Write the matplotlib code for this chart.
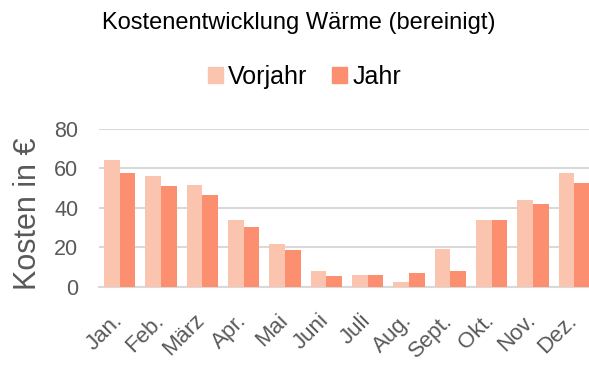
import numpy as np
import matplotlib.pyplot as plt
import matplotlib.transforms as mtransforms
from matplotlib.patches import Patch

plt.rcParams['font.family'] = ['Liberation Sans', 'DejaVu Sans']

monate = ["Jan.", "Feb.", "März", "Apr.", "Mai", "Juni", "Juli", "Aug.", "Sept.", "Okt.", "Nov.", "Dez."]
vorjahr = [64, 56.3, 51.7, 34, 21.7, 8.1, 6.1, 2.4, 19.4, 33.9, 44, 57.6]
jahr = [57.8, 51, 46.7, 30.5, 18.9, 5.6, 6, 6.9, 7.9, 33.9, 41.9, 52.7]

farbe_vj = "#FBC4AE"
farbe_j = "#FB8F6F"
grau = "#595959"

fig = plt.figure(figsize=(5.89, 3.71), dpi=100)
ax = fig.add_axes([99/589, 1 - 287/371, 496/589, (287 - 128.7)/371])

x = np.arange(len(monate))
b = 0.38
ax.bar(x - b/2, vorjahr, b, color=farbe_vj, zorder=3)
ax.bar(x + b/2, jahr, b, color=farbe_j, zorder=3)

ax.set_xlim(-0.5, 11.5)
ax.set_ylim(0, 80)
ax.set_yticks([0, 20, 40, 60, 80])
ax.yaxis.grid(True, color="#D9D9D9", linewidth=1.5, zorder=0)
for s in ["top", "right", "left"]:
    ax.spines[s].set_visible(False)
ax.spines["bottom"].set_color("#D9D9D9")
ax.spines["bottom"].set_linewidth(1.5)
ax.tick_params(length=0, colors=grau)
ax.tick_params(axis="y", pad=15, labelsize=15.5)
ax.tick_params(axis="x", pad=10, labelsize=16)
ax.set_xticks(x)
ax.set_xticklabels(monate, rotation=45, ha="right", rotation_mode="anchor")
# Monatsnamen etwas nach links unten schieben
versatz = mtransforms.ScaledTranslation(-8/100, -9/100, fig.dpi_scale_trans)
for lbl in ax.get_xticklabels():
    lbl.set_transform(lbl.get_transform() + versatz)
ax.set_ylabel("Kosten in €", fontsize=22, color=grau)
ax.yaxis.set_label_coords(-0.112, 0.464)

fig.text(0.507, 1 - 29/371, "Kostenentwicklung Wärme (bereinigt)", ha="center", va="baseline",
         fontsize=17, color="#000000")
fig.legend(handles=[Patch(color=farbe_vj, label="Vorjahr"), Patch(color=farbe_j, label="Jahr")],
           loc="center", bbox_to_anchor=(0.517, 1 - 77/371), ncol=2, frameon=False,
           fontsize=18, handlelength=0.6, handleheight=0.6, handletextpad=0.2, columnspacing=1.0)

fig.savefig("out.png", dpi=100)
